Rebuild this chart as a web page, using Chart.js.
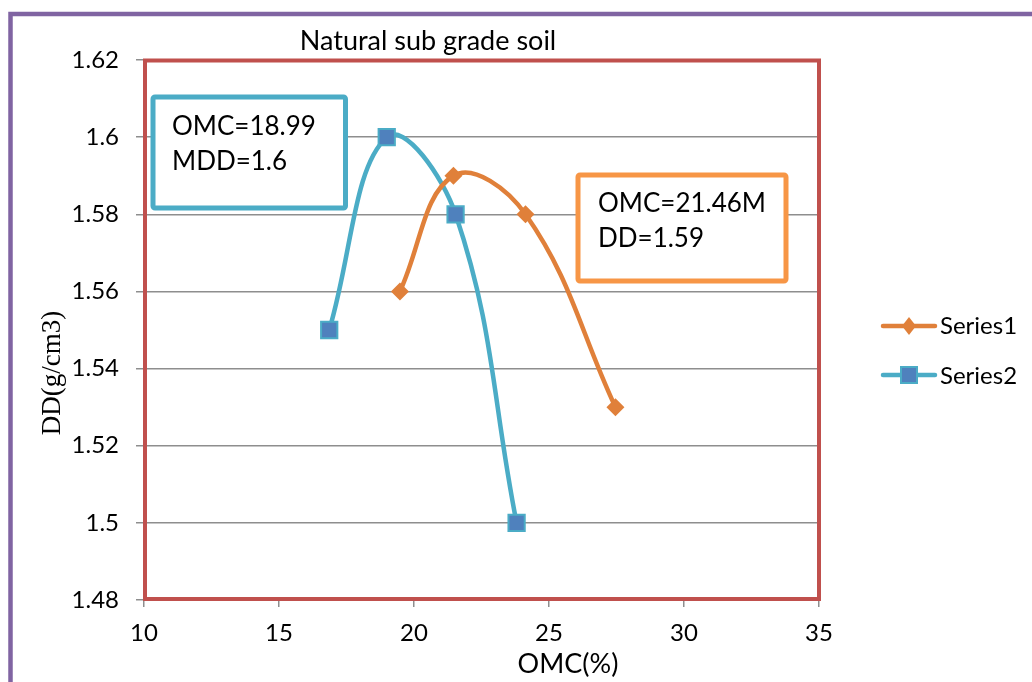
<!DOCTYPE html>
<html>
<head>
<meta charset="utf-8">
<script src="https://cdn.jsdelivr.net/npm/chart.js@4/dist/chart.umd.min.js"></script>
<style>
html,body{margin:0;padding:0;background:#fff;}
#wrap{width:1032px;height:682px;position:relative;}
</style>
</head>
<body>
<div id="wrap"><canvas id="c" width="1032" height="682"></canvas></div>
<script>
// ---- data ----
const series1X = [19.48, 21.46, 24.13, 27.46];
const series1Y = [1.56, 1.59, 1.58, 1.53];
const series2X = [16.86, 18.99, 21.54, 23.8];
const series2Y = [1.55, 1.60, 1.58, 1.50];
const seriesNames = ['Series1', 'Series2'];
const xTicks = [10, 15, 20, 25, 30, 35];
const yTicks = [1.48, 1.50, 1.52, 1.54, 1.56, 1.58, 1.60, 1.62];
const chartTitle = 'Natural sub grade soil';
const xTitle = 'OMC(%)';
const yTitle = 'DD(g/cm3)';
const note1 = ['OMC=18.99', 'MDD=1.6'];
const note2 = ['OMC=21.46M', 'DD=1.59'];

const ORANGE = '#E0803A';
const BLUE_LINE = '#4BACC6';
const BLUE_FILL = '#4F81BD';
const GRID = '#8e8e8e';
const FONT = 'Lato, "Open Sans", sans-serif';

const pts = (xs, ys) => xs.map((x, i) => ({x: x, y: ys[i]}));

const decor = {
  id: 'decor',
  beforeDraw(chart) {
    const ctx = chart.ctx;
    ctx.save();
    ctx.fillStyle = '#fff';
    ctx.fillRect(0, 0, chart.width, chart.height);
    ctx.strokeStyle = '#8064A2';
    ctx.lineWidth = 4.5;
    ctx.beginPath();
    ctx.moveTo(10.5, 690);
    ctx.lineTo(10.5, 14);
    ctx.lineTo(1040, 14);
    ctx.stroke();
    ctx.restore();
  },
  beforeDatasetsDraw(chart) {
    const ctx = chart.ctx, a = chart.chartArea;
    ctx.save();
    ctx.strokeStyle = '#C0504D';
    ctx.lineWidth = 4;
    ctx.strokeRect(a.left + 1, a.top + 0.5, a.right - a.left - 1, a.bottom - a.top - 1.5);
    ctx.restore();
  },
  afterDatasetsDraw(chart) {
    const ctx = chart.ctx;
    ctx.save();
    ctx.fillStyle = '#000';
    ctx.font = '27px ' + FONT;
    ctx.textAlign = 'center';
    ctx.textBaseline = 'alphabetic';
    ctx.fillText(chartTitle, 428, 50);
    ctx.font = '27px ' + FONT;
    ctx.fillText(xTitle, 568, 673);
    ctx.save();
    ctx.translate(60, 373);
    ctx.rotate(-Math.PI / 2);
    ctx.font = '27px "Liberation Serif", "DejaVu Serif", serif';
    ctx.fillText(yTitle, 0, 0);
    ctx.restore();

    function box(x1, y1, x2, y2, color, lines, tx, ty) {
      ctx.fillStyle = '#fff';
      ctx.strokeStyle = color;
      ctx.lineWidth = 5;
      ctx.beginPath();
      if (ctx.roundRect) ctx.roundRect(x1, y1, x2 - x1, y2 - y1, 2); else ctx.rect(x1, y1, x2 - x1, y2 - y1);
      ctx.fill();
      ctx.stroke();
      ctx.fillStyle = '#000';
      ctx.font = '26px ' + FONT;
      ctx.textAlign = 'left';
      lines.forEach((t, i) => ctx.fillText(t, tx, ty + i * 35));
    }
    box(153, 97, 345.5, 208, '#4BACC6', note1, 172, 135);
    box(578, 175, 786, 281, '#F79646', note2, 598, 212);

    ctx.lineCap = 'round';
    ctx.lineWidth = 4.5;
    ctx.strokeStyle = ORANGE;
    ctx.beginPath(); ctx.moveTo(883, 326); ctx.lineTo(935, 326); ctx.stroke();
    ctx.fillStyle = ORANGE;
    ctx.beginPath();
    ctx.moveTo(909, 317); ctx.lineTo(916, 326); ctx.lineTo(909, 335); ctx.lineTo(902, 326); ctx.closePath();
    ctx.fill();
    ctx.strokeStyle = BLUE_LINE;
    ctx.beginPath(); ctx.moveTo(883, 375); ctx.lineTo(935, 375); ctx.stroke();
    ctx.fillStyle = BLUE_FILL;
    ctx.fillRect(901, 367, 16, 16);
    ctx.lineWidth = 2;
    ctx.strokeRect(901, 367, 16, 16);
    ctx.fillStyle = '#000';
    ctx.font = '24px ' + FONT;
    ctx.textAlign = 'left';
    ctx.fillText(seriesNames[0], 940, 334);
    ctx.fillText(seriesNames[1], 940, 384);
    ctx.restore();
  }
};

new Chart(document.getElementById('c'), {
  type: 'line',
  data: {
    datasets: [
      {
        label: seriesNames[0],
        data: pts(series1X, series1Y),
        borderColor: ORANGE,
        backgroundColor: ORANGE,
        borderWidth: 4.5,
        tension: 0.4,
        pointStyle: 'rectRot',
        pointRadius: 9,
        pointBorderWidth: 0,
        pointBackgroundColor: ORANGE,
        fill: false
      },
      {
        label: seriesNames[1],
        data: pts(series2X, series2Y),
        borderColor: BLUE_LINE,
        backgroundColor: BLUE_FILL,
        borderWidth: 4.5,
        tension: 0.4,
        pointStyle: 'rect',
        pointRadius: 11.5,
        pointBorderWidth: 2,
        pointBorderColor: BLUE_LINE,
        pointBackgroundColor: BLUE_FILL,
        fill: false
      }
    ]
  },
  options: {
    responsive: false,
    animation: false,
    events: [],
    layout: {padding: {left: 0, top: 60, right: 213, bottom: 0}},
    plugins: {legend: {display: false}, tooltip: {enabled: false}, title: {display: false}},
    scales: {
      x: {
        type: 'linear',
        min: 10, max: 35,
        afterBuildTicks: s => { s.ticks = xTicks.map(v => ({value: v})); },
        afterFit: s => { s.height = 82; },
        grid: {drawOnChartArea: false, drawTicks: true, tickLength: 7, color: GRID, lineWidth: 1.5},
        border: {display: true, color: GRID, width: 1.5},
        ticks: {color: '#000', font: {family: FONT, size: 24}, padding: 12, maxRotation: 0, autoSkip: false,
                callback: v => String(v)}
      },
      y: {
        type: 'linear',
        min: 1.48, max: 1.62,
        afterBuildTicks: s => { s.ticks = yTicks.map(v => ({value: v})); },
        afterFit: s => { s.width = 144; },
        grid: {drawOnChartArea: true, drawTicks: true, tickLength: 8, color: GRID, lineWidth: 1.5},
        border: {display: true, color: GRID, width: 1.5},
        ticks: {color: '#000', font: {family: FONT, size: 24}, padding: 17, autoSkip: false,
                callback: v => String(+Number(v).toFixed(2))}
      }
    }
  },
  plugins: [decor]
});
</script>
</body>
</html>
